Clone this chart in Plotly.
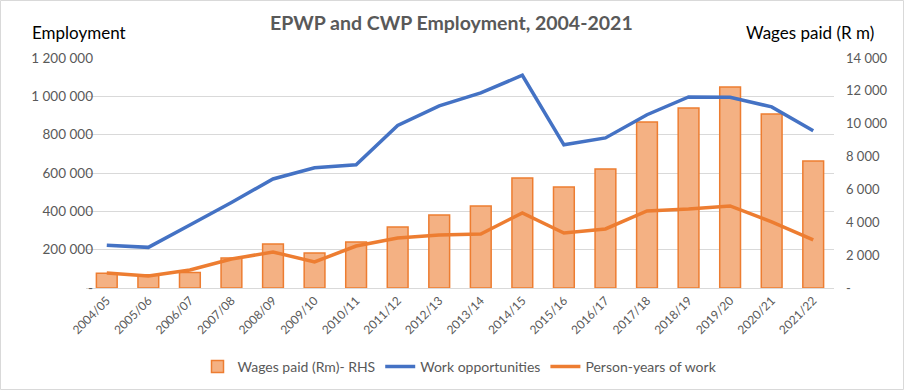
import plotly.graph_objects as go

years = ["2004/05", "2005/06", "2006/07", "2007/08", "2008/09", "2009/10", "2010/11",
         "2011/12", "2012/13", "2013/14", "2014/15", "2015/16", "2016/17", "2017/18",
         "2018/19", "2019/20", "2020/21", "2021/22"]
wages_rm = [900, 800, 950, 1830, 2680, 2130, 2800, 3710, 4440, 4990, 6700, 6150, 7240,
            10100, 10950, 12230, 10590, 7730]
work_opportunities = [223000, 212000, 329000, 446000, 569000, 627000, 643000, 848000, 950000,
                      1018000, 1110000, 747000, 783000, 904000, 997000, 995000, 945000, 820000]
person_years = [78000, 63000, 94000, 151000, 188000, 136000, 219000, 261000, 277000, 282000,
                392000, 287000, 308000, 402000, 412000, 428000, 345000, 251000]

left_ticks = [0, 200000, 400000, 600000, 800000, 1000000, 1200000]
left_text = ["-", "200 000", "400 000", "600 000", "800 000", "1 000 000", "1 200 000"]
right_ticks = [0, 2000, 4000, 6000, 8000, 10000, 12000, 14000]
right_text = ["-", "2 000", "4 000", "6 000", "8 000", "10 000", "12 000", "14 000"]

FONT = "Lato"
GRAY = "#595959"

fig = go.Figure()
fig.add_trace(go.Bar(x=years, y=wages_rm, name="Wages paid (Rm)- RHS", yaxis="y",
                     width=0.5, marker=dict(color="#F4B183", line=dict(color="#ED7D31", width=1.5))))
fig.add_trace(go.Scatter(x=years, y=work_opportunities, name="Work opportunities", yaxis="y2",
                         mode="lines", line=dict(color="#4472C4", width=3.5)))
fig.add_trace(go.Scatter(x=years, y=person_years, name="Person-years of work", yaxis="y2",
                         mode="lines", line=dict(color="#ED7D31", width=3.5)))

L, R, T, B = 86, 70, 58, 102
W, H = 904, 390
pw, ph = W - L - R, H - T - B

def px_x(x):
    return (x - L) / pw

def px_y(y):
    return (H - B - y) / ph

fig.update_layout(
    width=W, height=H,
    margin=dict(l=L, r=R, t=T, b=B, pad=0, autoexpand=False),
    paper_bgcolor="white", plot_bgcolor="white",
    font=dict(family=FONT, color=GRAY, size=12),
    showlegend=True,
    legend=dict(orientation="h", x=0.5, xanchor="center", y=px_y(367), yanchor="middle",
                font=dict(size=14, color=GRAY), traceorder="normal", itemwidth=30),
    xaxis=dict(type="category", showgrid=False, showline=True, linecolor="#d9d9d9", linewidth=1,
               tickangle=-45, tickfont=dict(size=12, color=GRAY), ticks=""),
    yaxis=dict(side="right", range=[0, 14000], tickvals=right_ticks, ticktext=right_text,
               showgrid=False, zeroline=False, tickfont=dict(size=13, color=GRAY),
               ticklabelstandoff=11),
    yaxis2=dict(side="left", overlaying="y", anchor="free", position=0.012,
                range=[0, 1200000], tickvals=left_ticks,
                ticktext=left_text, showgrid=True, gridcolor="#d9d9d9", gridwidth=1,
                zeroline=False, tickfont=dict(size=13.5, color=GRAY), ticklabelstandoff=2),
    annotations=[
        dict(text="<b>EPWP and CWP Employment, 2004-2021</b>", xref="paper", yref="paper",
             x=px_x(451), y=px_y(22), xanchor="center", yanchor="middle", showarrow=False,
             font=dict(family=FONT, size=19.5, color=GRAY)),
        dict(text="Employment", xref="paper", yref="paper", x=px_x(30), y=px_y(33),
             xanchor="left", yanchor="middle", showarrow=False,
             font=dict(family=FONT, size=17, color="black")),
        dict(text="Wages paid (R m)", xref="paper", yref="paper", x=px_x(876), y=px_y(33),
             xanchor="right", yanchor="middle", showarrow=False,
             font=dict(family=FONT, size=17, color="black")),
    ],
    shapes=[dict(type="rect", xref="paper", yref="paper", x0=px_x(0.5), x1=px_x(903.5),
                 y0=px_y(389.5), y1=px_y(0.5), line=dict(color="#d9d9d9", width=1),
                 fillcolor="rgba(0,0,0,0)", layer="below")],
)

fig.write_html("out.html", config={"displayModeBar": False},
               post_script="document.body.style.margin='0';document.body.style.overflow='hidden';")
